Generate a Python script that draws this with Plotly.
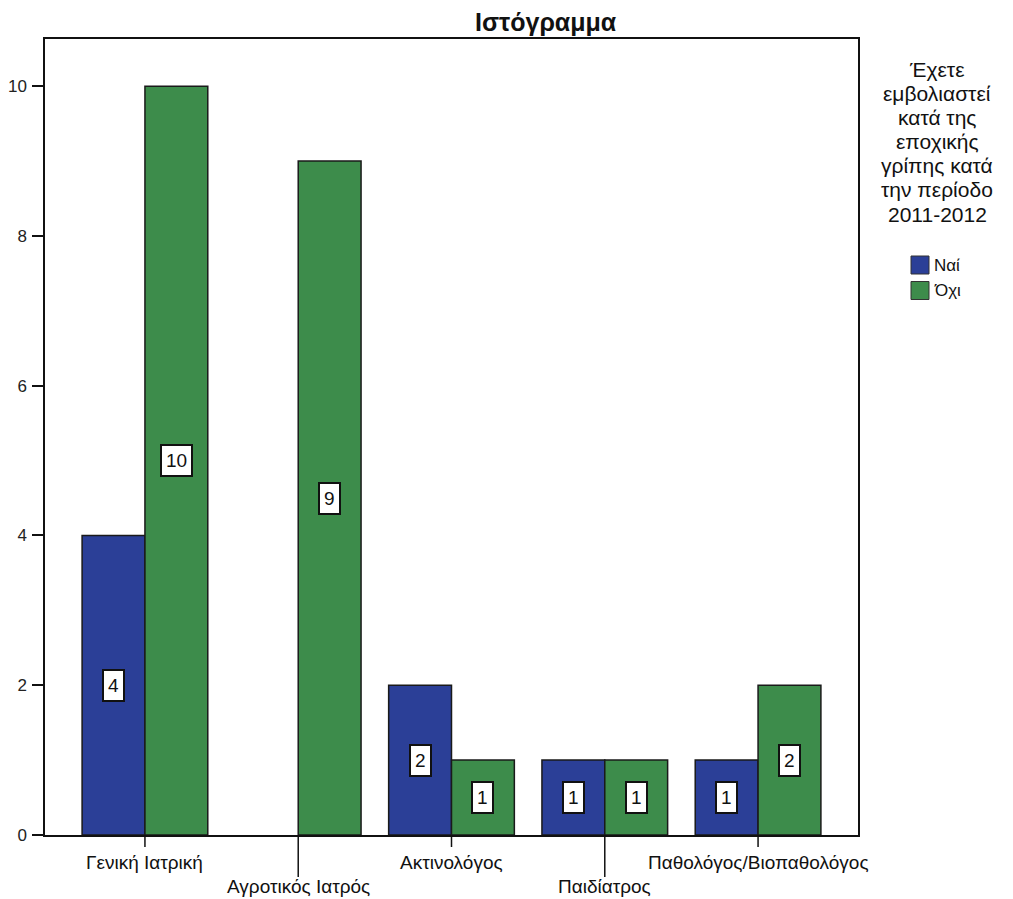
import plotly.graph_objects as go

categories = ["Γενική Ιατρική", "Αγροτικός Ιατρός", "Ακτινολόγος", "Παιδίατρος", "Παθολόγος/Βιοπαθολόγος"]
nai = [4, None, 2, 1, 1]
ochi = [10, 9, 1, 1, 2]
series_names = ["Ναί", "Όχι"]
colors = ["#2b3f97", "#3d8c4b"]
legend_title_lines = ["Έχετε", "εμβολιαστεί", "κατά της", "εποχικής", "γρίπης κατά", "την περίοδο", "2011-2012"]
title_text = "Ιστόγραμμα"
y_ticks = [0, 2, 4, 6, 8, 10]

FONT = "Liberation Sans, Arial, sans-serif"
bargap = 0.18
barw = (1 - bargap) / 2
idx = list(range(len(categories)))

# page body margin compensation (8px) -> figure sized 1005x891
OFF = 8
W, H = 1005, 891
PL, PR, PT, PB = 45, 858, 39, 835  # plot area in page pixels


def px(xp):
    return (xp - PL) / (PR - PL)


def py(yp):
    return (PB - yp) / (PB - PT)


fig = go.Figure()
for name, vals, col in zip(series_names, [nai, ochi], colors):
    fig.add_trace(go.Bar(
        x=idx, y=vals, name=name, showlegend=False,
        marker=dict(color=col, line=dict(color="#1a1a1a", width=1.5)),
    ))

annotations = []
# value labels in white boxes
for s, vals in enumerate([nai, ochi]):
    off = -barw / 2 if s == 0 else barw / 2
    for i, v in enumerate(vals):
        if v is None:
            continue
        annotations.append(dict(
            x=i + off, y=v / 2, xref="x", yref="y", text=str(v), showarrow=False,
            font=dict(family=FONT, size=19, color="#111"),
            bgcolor="white", bordercolor="#111", borderwidth=2, borderpad=4,
        ))

# staggered category labels
for i, c in enumerate(categories):
    annotations.append(dict(
        x=i, y=0, xref="x", yref="paper", text=c, showarrow=False,
        yanchor="middle", yshift=-27 if i % 2 == 0 else -51,
        font=dict(family=FONT, size=19, color="#111"),
    ))

# title
annotations.append(dict(
    x=px(546), y=py(22), xref="paper", yref="paper", text="<b>" + title_text + "</b>",
    showarrow=False, yanchor="middle",
    font=dict(family=FONT, size=25, color="#111"),
))
# legend title (one line each for spacing control)
for k, line in enumerate(legend_title_lines):
    annotations.append(dict(
        x=px(937), y=py(69 + k * 24.2), xref="paper", yref="paper", text=line,
        showarrow=False, yanchor="middle", xanchor="center",
        font=dict(family=FONT, size=21, color="#111"),
    ))

shapes = []
# category ticks (alternating length for staggered labels)
for i in idx:
    shapes.append(dict(
        type="line", xref="x", yref="paper", ysizemode="pixel", yanchor=0,
        x0=i, x1=i, y0=0, y1=-(12 if i % 2 == 0 else 42),
        line=dict(color="#111", width=1.5),
    ))

# custom legend
for k, (name, col) in enumerate(zip(series_names, colors)):
    cy = 265 + k * 25.5
    shapes.append(dict(
        type="rect", xref="paper", yref="paper",
        x0=px(911), x1=px(929), y0=py(cy + 9), y1=py(cy - 9),
        fillcolor=col, line=dict(color="#333", width=1),
    ))
    annotations.append(dict(
        x=px(932), y=py(cy), xref="paper", yref="paper", text=name,
        showarrow=False, xanchor="left", yanchor="middle",
        font=dict(family=FONT, size=17, color="#111"),
    ))

fig.update_layout(
    width=W, height=H,
    margin=dict(l=PL - OFF, r=W - (PR - OFF), t=PT - OFF, b=H - (PB - OFF)),
    paper_bgcolor="white", plot_bgcolor="white",
    barmode="group", bargap=bargap, bargroupgap=0,
    showlegend=False,
    annotations=annotations,
    shapes=shapes,
    xaxis=dict(range=[-0.652, 4.652], showticklabels=False, ticks="",
               showgrid=False, zeroline=False, showline=True, linecolor="#111",
               linewidth=1.5, mirror=True, automargin=False),
    yaxis=dict(range=[0, 10.63], tickvals=y_ticks, ticks="outside", ticklen=11,
               tickwidth=1.5, tickcolor="#111", showgrid=False, zeroline=False,
               showline=True, linecolor="#111", linewidth=1.5, mirror=True,
               ticklabelstandoff=2, automargin=False,
               tickfont=dict(family=FONT, size=17, color="#222")),
)

fig.write_html("out.html")
